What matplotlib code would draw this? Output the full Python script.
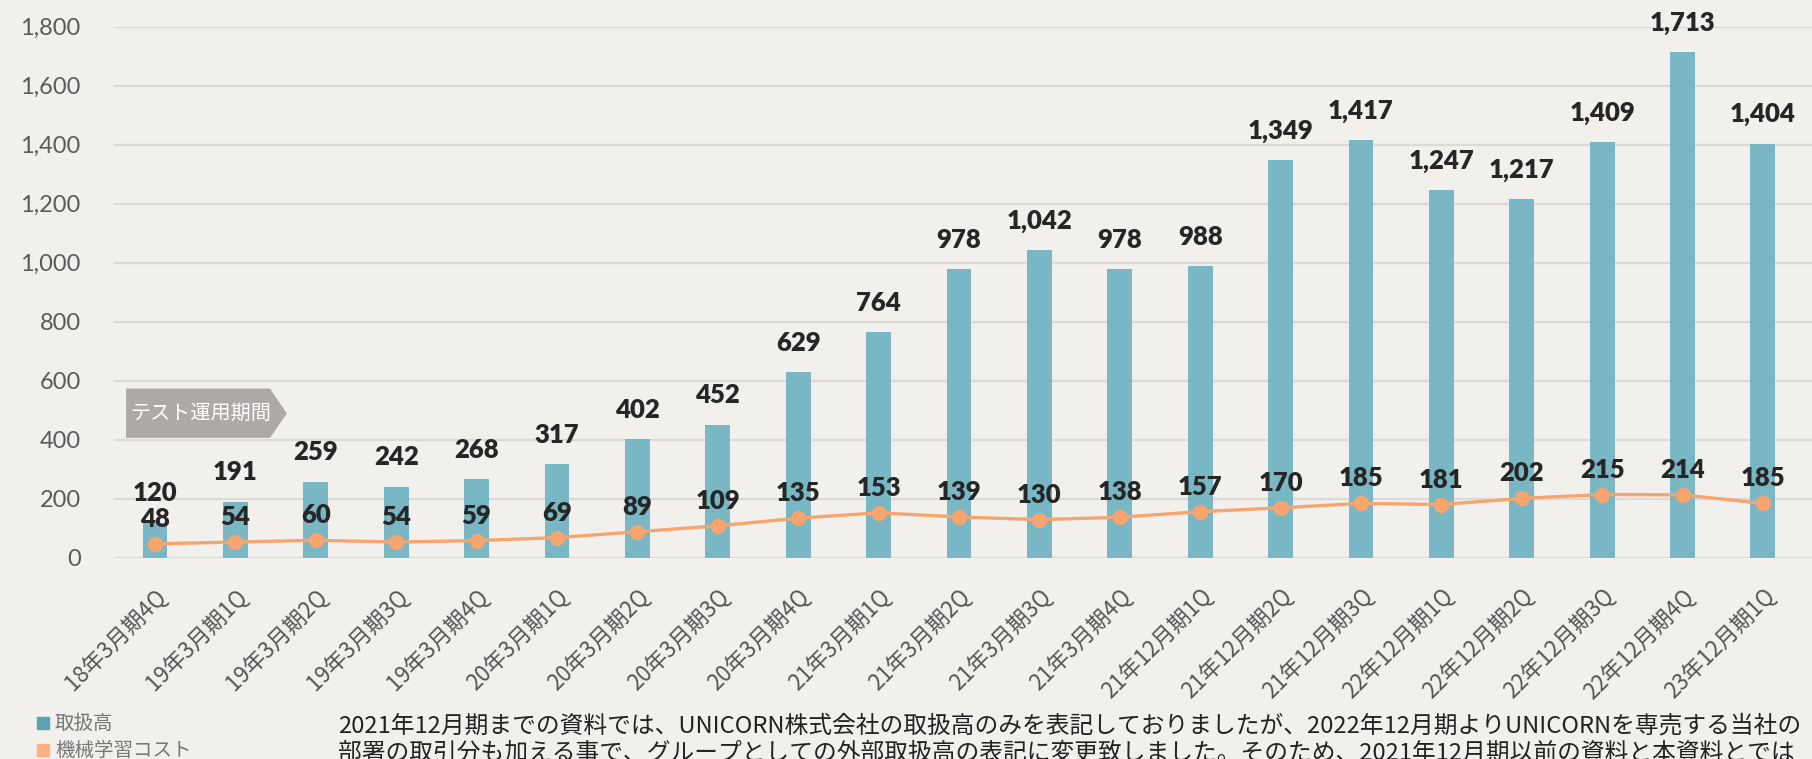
import matplotlib
matplotlib.use("Agg")
import matplotlib.pyplot as plt
import matplotlib.transforms as mtransforms
from matplotlib.patches import Polygon, Rectangle
import numpy as np

plt.rcParams['font.family'] = ['Noto Sans CJK JP', 'DejaVu Sans']

# data
quarters = ['18年3月期4Q', '19年3月期1Q', '19年3月期2Q', '19年3月期3Q', '19年3月期4Q',
            '20年3月期1Q', '20年3月期2Q', '20年3月期3Q', '20年3月期4Q',
            '21年3月期1Q', '21年3月期2Q', '21年3月期3Q', '21年3月期4Q',
            '21年12月期1Q', '21年12月期2Q', '21年12月期3Q',
            '22年12月期1Q', '22年12月期2Q', '22年12月期3Q', '22年12月期4Q',
            '23年12月期1Q']
volume = [120, 191, 259, 242, 268, 317, 402, 452, 629, 764, 978, 1042, 978, 988,
          1349, 1417, 1247, 1217, 1409, 1713, 1404]
ml_cost = [48, 54, 60, 54, 59, 69, 89, 109, 135, 153, 139, 130, 138, 157,
           170, 185, 181, 202, 215, 214, 185]
yticks = [0, 200, 400, 600, 800, 1000, 1200, 1400, 1600, 1800]
legend_labels = ['取扱高', '機械学習コスト']
tag_text = 'テスト運用期間'
note_lines = ['2021年12月期までの資料では、UNICORN株式会社の取扱高のみを表記しておりましたが、2022年12月期よりUNICORNを専売する当社の',
              '部署の取引分も加える事で、グループとしての外部取扱高の表記に変更致しました。そのため、2021年12月期以前の資料と本資料とでは']

bg = '#F1F0ED'
bar_col = '#7AB7C4'
line_col = '#F8A46F'

W, H = 1812, 759
fig = plt.figure(figsize=(W / 100, H / 100), dpi=100, facecolor=bg)
ax = fig.add_axes([114 / W, 1 - 558 / H, 1 - 114 / W, (558 - 26.7) / H])
ax.set_facecolor(bg)

x = np.arange(len(quarters))
ax.bar(x, volume, width=0.31, color=bar_col, zorder=2)
ax.plot(x, ml_cost, color=line_col, lw=2.4, marker='o', ms=10, zorder=3)

for xi, v in zip(x, volume):
    ax.annotate(f'{v:,}', (xi, v), xytext=(0, 21), textcoords='offset points',
                ha='center', va='center', fontsize=18.5, fontweight='heavy',
                family='Lato', color='#262626', zorder=5, annotation_clip=False)
for xi, v in zip(x, ml_cost):
    ax.annotate(f'{v:,}', (xi, v), xytext=(0, 18), textcoords='offset points',
                ha='center', va='center', fontsize=18.5, fontweight='heavy',
                family='Lato', color='#262626', zorder=5)

ax.set_xlim(-0.51, len(quarters) - 0.39)
ax.set_ylim(0, 1800)
ax.set_yticks(yticks)
ax.set_yticklabels([f'{t:,}' for t in yticks], family='Lato', fontsize=17, color='#5a5a5a')
ax.tick_params(axis='y', length=0, pad=24)
ax.grid(axis='y', color='#DCDAD7', lw=1.6, zorder=0)
ax.set_axisbelow(True)
for s in ax.spines.values():
    s.set_visible(False)

ax.set_xticks(x)
ax.set_xticklabels(quarters, rotation=45, ha='right', va='center',
                   rotation_mode='anchor', fontsize=16, color='#555555')
ax.tick_params(axis='x', length=0, pad=25)
shift = mtransforms.ScaledTranslation(8 / 100, 0, fig.dpi_scale_trans)
for lab in ax.get_xticklabels():
    lab.set_transform(lab.get_transform() + shift)

# test period tag
tag = Polygon([(-0.36, 407), (1.43, 407), (1.64, 490), (1.43, 574), (-0.36, 574)],
              closed=True, facecolor='#ADA9A7', edgecolor='none', zorder=4)
ax.add_patch(tag)
ax.text(0.57, 490, tag_text, ha='center', va='center', color='white', fontsize=14.5, zorder=5)

# legend
for i, (lab, c) in enumerate(zip(legend_labels, ['#5BA3B3', '#FFAF80'])):
    yc = 723 + i * 27
    fig.add_artist(Rectangle((37 / W, 1 - (yc + 6) / H), 12 / W, 12 / H,
                             transform=fig.transFigure, color=c))
    fig.text(55 / W, 1 - yc / H, lab, ha='left', va='center', fontsize=14, color='#777777')

# note (second line runs off the bottom edge, as in the source)
for i, line in enumerate(note_lines):
    fig.text(338 / W, 1 - (726 + i * 27) / H, line, ha='left', va='center',
             fontsize=17.1, color='#222222')

fig.savefig('out.png', dpi=100, facecolor=bg)
